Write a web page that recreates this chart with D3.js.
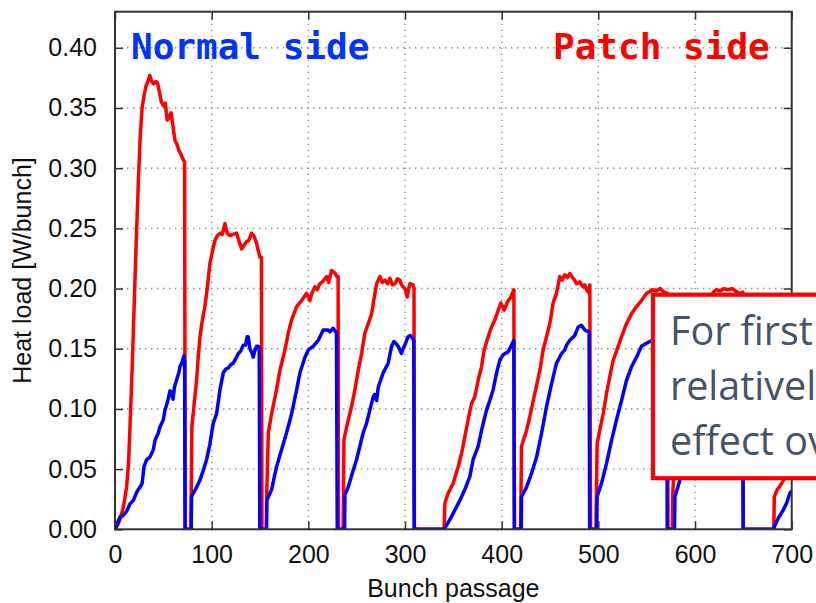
<!DOCTYPE html>
<html>
<head>
<meta charset="utf-8">
<script src="https://cdn.jsdelivr.net/npm/d3@7"></script>
<style>
  html, body { margin: 0; padding: 0; background: #fff; overflow: hidden; }
  svg { display: block; }
</style>
</head>
<body>
<svg id="chart" width="816" height="603"></svg>
<script>
// ---- data ----
const xTicks = [0, 100, 200, 300, 400, 500, 600, 700];
const yTicks = [0.00, 0.05, 0.10, 0.15, 0.20, 0.25, 0.30, 0.35, 0.40];
const xLabel = "Bunch passage";
const yLabel = "Heat load [W/bunch]";
const normalLabel = "Normal side";
const patchLabel = "Patch side";
const noteLines = ["For first", "relatively", "effect over"];

// Patch side (red): [bunch passage, heat load W/bunch]
const patchSide = [
[0,0],[3,0.004],[6,0.010],[9,0.020],[12,0.035],[14,0.055],[16,0.095],[18,0.14],[20,0.19],[22,0.24],[24,0.285],[26,0.325],[28,0.35],[30,0.36],[32,0.368],[34,0.372],[36,0.377],[38,0.372],[40,0.370],[42,0.372],[44,0.371],[46,0.363],[48,0.355],[50,0.352],[52,0.354],[54,0.34],[56,0.342],[58,0.346],[60,0.335],[62,0.323],[64,0.32],[66,0.315],[68,0.312],[70,0.308],[72,0.305],[72.6,0],[78.5,0],
[78.8,0.025],[79.5,0.085],[82,0.105],[84.4,0.124],[86,0.142],[87.9,0.16],[90,0.172],[93,0.185],[95.4,0.2],[98.2,0.221],[101,0.232],[103.4,0.24],[106,0.244],[108.6,0.246],[111,0.245],[113.7,0.254],[116,0.246],[118.9,0.244],[122,0.245],[125.8,0.246],[128,0.240],[131,0.233],[133.5,0.236],[136,0.239],[138.5,0.240],[141.2,0.246],[143.5,0.244],[146.4,0.238],[148,0.232],[150,0.226],[151.5,0.226],[152,0],[156.5,0],
[156.9,0.027],[158.6,0.08],[162,0.096],[167.1,0.116],[170.6,0.132],[175.8,0.149],[179.2,0.163],[182.7,0.174],[187.9,0.185],[193,0.19],[198.2,0.196],[201.6,0.19],[204,0.197],[206.8,0.2015],[209,0.199],[212,0.204],[215,0.206],[218.9,0.21],[221,0.205],[224,0.215],[227.5,0.213],[229.5,0.21],[230.8,0.21],[231.2,0],[236,0],
[236.3,0.025],[236.8,0.074],[239.6,0.085],[244.7,0.102],[248.2,0.116],[251.6,0.132],[255.1,0.146],[258.5,0.163],[262,0.171],[265.5,0.179],[267.2,0.188],[270.6,0.204],[274,0.21],[276.5,0.205],[279.2,0.207],[282,0.204],[284.4,0.2085],[287,0.203],[289.6,0.204],[292,0.208],[294.7,0.207],[296.5,0.203],[298.1,0.2015],[300.5,0.199],[302.3,0.193],[303.8,0.2],[305,0.204],[308.5,0.203],[309.3,0.2],[309.7,0],[340.5,0],
[341.2,0.0215],[344.6,0.03],[349.8,0.038],[355,0.052],[358.5,0.063],[361.9,0.077],[365.3,0.091],[368.8,0.1045],[372.2,0.11],[375.7,0.124],[379.1,0.135],[381.9,0.149],[386,0.16],[389.5,0.168],[393,0.174],[396.4,0.182],[399.1,0.188],[401,0.185],[402.6,0.182],[406,0.189],[409.5,0.193],[412.6,0.199],[413.2,0],[419.5,0],
[420,0.03],[420.5,0.069],[425.7,0.082],[429.1,0.0935],[434.3,0.113],[439.5,0.132],[442.9,0.149],[446.4,0.16],[449.8,0.171],[453.2,0.188],[456.7,0.196],[460.1,0.21],[462.5,0.207],[465.3,0.2115],[468,0.209],[470.5,0.2125],[473.9,0.2085],[475.5,0.207],[477.4,0.204],[480.8,0.2055],[484.2,0.2015],[486,0.203],[487.7,0.199],[489.5,0.197],[491.2,0.203],[491.9,0],[497.5,0],
[498,0.03],[498.7,0.071],[501.5,0.0825],[505,0.096],[508.5,0.113],[511.9,0.127],[515.4,0.1406],[520.5,0.152],[524,0.16],[529.2,0.171],[534.3,0.179],[539.5,0.185],[544.6,0.19],[549.8,0.196],[553.2,0.1975],[556,0.199],[560,0.198],[564,0.2],[568,0.197],[571.5,0.196],[572,0],[576.5,0],
[577,0.03],[579,0.06],[581,0.075],[585,0.095],[590,0.12],[595,0.14],[600,0.155],[605,0.168],[610,0.178],[615,0.188],[619,0.197],[622,0.199],[626,0.198],[630,0.2],[634,0.199],[638,0.2],[642,0.198],[646,0.196],[649.5,0.197],[650,0],[681.5,0],
[682,0.027],[685,0.033],[688,0.036],[691,0.04],[694,0.045],[697,0.06],[700,0.07]
];

// Normal side (blue)
const normalSide = [
[0,0],[5.2,0.0105],[8.6,0.0115],[12,0.015],[15.5,0.021],[19,0.024],[22,0.03],[24,0.033],[26,0.035],[28,0.038],[29.3,0.047],[30,0.052],[32.8,0.058],[36.2,0.06],[39.6,0.066],[41.4,0.074],[44.8,0.08],[46.5,0.085],[50,0.091],[51.7,0.099],[55,0.108],[56.9,0.115],[58.6,0.114],[60,0.108],[61.5,0.118],[63.7,0.124],[66,0.13],[67.2,0.135],[69,0.138],[71.3,0.144],[72,0.14],[72.5,0],[78.8,0],
[79.2,0.027],[84.4,0.035],[87.9,0.041],[91.3,0.049],[94.8,0.058],[98.2,0.071],[101.6,0.088],[105.1,0.096],[108.6,0.116],[112,0.13],[114.5,0.133],[117.2,0.134],[120,0.137],[122.4,0.138],[125,0.142],[127.6,0.146],[130,0.148],[132.7,0.153],[135,0.153],[136.8,0.16],[137.8,0.16],[139.6,0.15],[141.5,0.147],[143,0.143],[144.5,0.148],[146.4,0.152],[148.2,0.152],[149.2,0.15],[149.8,0],[156.8,0],
[157,0.024],[162,0.033],[167.1,0.052],[172.3,0.066],[177.4,0.08],[182.7,0.096],[187.9,0.116],[191.3,0.13],[196.5,0.143],[199.9,0.149],[205,0.152],[210.2,0.157],[212,0.16],[215.4,0.1655],[217,0.1655],[220.5,0.1655],[222.3,0.164],[225.7,0.167],[227.5,0.165],[229.1,0.163],[229.9,0],[237.5,0],
[237.8,0.0285],[241.2,0.035],[246.4,0.049],[249.9,0.058],[253.3,0.069],[256.7,0.08],[260.2,0.088],[263.6,0.099],[267.1,0.11],[268.5,0.112],[270.6,0.107],[272.3,0.118],[277.4,0.13],[282.6,0.138],[286.1,0.152],[288.5,0.156],[291,0.154],[293,0.152],[296.3,0.146],[298,0.15],[299.8,0.153],[303.2,0.16],[305.5,0.161],[307.8,0.1585],[309,0.157],[309.5,0],[339.5,0],
[341.2,0.001],[346.4,0.008],[351.6,0.016],[356.7,0.024],[361.9,0.033],[367.1,0.044],[370.5,0.058],[375.7,0.069],[379.1,0.082],[384.3,0.099],[387.7,0.107],[391.2,0.116],[394.6,0.1295],[398.1,0.1406],[401.5,0.145],[406.7,0.1475],[410.2,0.153],[412.6,0.157],[413.1,0],[420.2,0],
[420.5,0.027],[425.7,0.035],[430.9,0.0465],[436.1,0.06],[441.3,0.08],[446.4,0.102],[451.6,0.121],[456.7,0.138],[461.9,0.146],[465.3,0.149],[467.1,0.153],[470.5,0.157],[475.6,0.161],[479.1,0.168],[482.5,0.1695],[486,0.1655],[490.4,0.164],[491,0],[498.3,0],
[498.7,0.027],[503.2,0.038],[508.5,0.055],[513.7,0.074],[518.8,0.091],[524,0.107],[529.2,0.124],[534.3,0.135],[539.5,0.143],[544.6,0.152],[549.8,0.1545],[553.2,0.156],[557,0.157],[561,0.16],[565,0.159],[569,0.161],[570.8,0.159],[571.2,0],[578.8,0],
[579.2,0.027],[584,0.04],[589,0.058],[594,0.076],[599,0.093],[604,0.108],[609,0.122],[614,0.133],[619,0.14],[624,0.146],[629,0.15],[634,0.152],[639,0.155],[644,0.157],[649.3,0.156],[649.7,0],[680.7,0],
[686,0.009],[691.2,0.016],[694.7,0.0216],[698.1,0.03],[700,0.032]
];

// ---- layout ----
const plot = { left: 115, right: 791.7, top: 11.7, bottom: 529.3 };

const svg = d3.select("#chart");
const x = d3.scaleLinear().domain([0, 700]).range([plot.left, plot.right]);
const y = d3.scaleLinear().domain([0, 0.43]).range([plot.bottom, plot.top]);

svg.append("defs").append("clipPath").attr("id", "plotClip")
  .append("rect")
  .attr("x", plot.left).attr("y", plot.top)
  .attr("width", plot.right - plot.left).attr("height", plot.bottom - plot.top);

// grid
const grid = svg.append("g");
grid.selectAll("line.gx").data(xTicks.slice(1, -1)).enter().append("line")
  .attr("x1", d => x(d)).attr("x2", d => x(d))
  .attr("y1", plot.top).attr("y2", plot.bottom)
  .attr("stroke", "#8a8a8a").attr("stroke-width", 1.4).attr("stroke-dasharray", "1.4 4.6");
grid.selectAll("line.gy").data(yTicks.slice(1)).enter().append("line")
  .attr("y1", d => y(d)).attr("y2", d => y(d))
  .attr("x1", plot.left).attr("x2", plot.right)
  .attr("stroke", "#8a8a8a").attr("stroke-width", 1.4).attr("stroke-dasharray", "1.4 4.6");

// lines
const line = d3.line().x(d => x(d[0])).y(d => y(d[1]));
const lines = svg.append("g").attr("clip-path", "url(#plotClip)");
lines.append("path").datum(patchSide).attr("d", line)
  .attr("fill", "none").attr("stroke", "#ff0000").attr("stroke-width", 3.5).attr("stroke-linejoin", "round");
lines.append("path").datum(normalSide).attr("d", line)
  .attr("fill", "none").attr("stroke", "#0000ff").attr("stroke-width", 3.5).attr("stroke-linejoin", "round");

// axes (ticks inward on all four sides)
const tickLen = 8;
const axisFont = "Liberation Sans, Arial, Helvetica, sans-serif";
const gx = svg.append("g").attr("transform", `translate(0,${plot.bottom})`)
  .call(d3.axisBottom(x).tickValues(xTicks).tickSizeInner(-tickLen).tickSizeOuter(0).tickPadding(16).tickFormat(d3.format("d")));
const gxTop = svg.append("g").attr("transform", `translate(0,${plot.top})`)
  .call(d3.axisTop(x).tickValues(xTicks).tickSizeInner(-tickLen).tickSizeOuter(0).tickFormat(""));
const gy = svg.append("g").attr("transform", `translate(${plot.left},0)`)
  .call(d3.axisLeft(y).tickValues(yTicks).tickSizeInner(-tickLen).tickSizeOuter(0).tickPadding(18).tickFormat(d3.format(".2f")));
const gyR = svg.append("g").attr("transform", `translate(${plot.right},0)`)
  .call(d3.axisRight(y).tickValues(yTicks).tickSizeInner(-tickLen).tickSizeOuter(0).tickFormat(""));
[gx, gxTop, gy, gyR].forEach(g => {
  g.select(".domain").remove();
  g.selectAll(".tick line").attr("stroke", "#333").attr("stroke-width", 1.5);
  g.selectAll(".tick text").attr("fill", "#111").attr("font-family", axisFont).attr("font-size", 25);
});

// frame
svg.append("rect")
  .attr("x", plot.left).attr("y", plot.top)
  .attr("width", plot.right - plot.left).attr("height", plot.bottom - plot.top)
  .attr("fill", "none").attr("stroke", "#333").attr("stroke-width", 2);

// axis labels
svg.append("text").attr("x", (plot.left + plot.right) / 2).attr("y", 597)
  .attr("text-anchor", "middle").attr("font-family", axisFont).attr("font-size", 25).attr("fill", "#111")
  .text(xLabel);
svg.append("text").attr("transform", `translate(31,${(plot.top + plot.bottom) / 2}) rotate(-90)`)
  .attr("text-anchor", "middle").attr("font-family", axisFont).attr("font-size", 25).attr("fill", "#111")
  .text(yLabel);

// in-plot labels
const monoFont = "DejaVu Sans Mono, Liberation Mono, monospace";
svg.append("text").attr("x", 131).attr("y", 59).attr("font-family", monoFont).attr("font-weight", "bold")
  .attr("font-size", 36).attr("fill", "#0033ff").text(normalLabel);
svg.append("text").attr("x", 553).attr("y", 59).attr("font-family", monoFont).attr("font-weight", "bold")
  .attr("font-size", 36).attr("fill", "#ff0000").text(patchLabel);

// annotation box overlay (runs off the right edge, as in the reference)
svg.append("rect").attr("x", 653).attr("y", 294.7).attr("width", 200).attr("height", 183.5)
  .attr("fill", "#ffffff").attr("stroke", "#ff0000").attr("stroke-width", 4.2);
svg.append("g").selectAll("text").data(noteLines).enter().append("text")
  .attr("x", 670).attr("y", (d, i) => 345 + i * 55)
  .attr("font-family", "Open Sans, Noto Sans, sans-serif").attr("font-size", 39.5).attr("fill", "#44546a")
  .text(d => d);
</script>
</body>
</html>
